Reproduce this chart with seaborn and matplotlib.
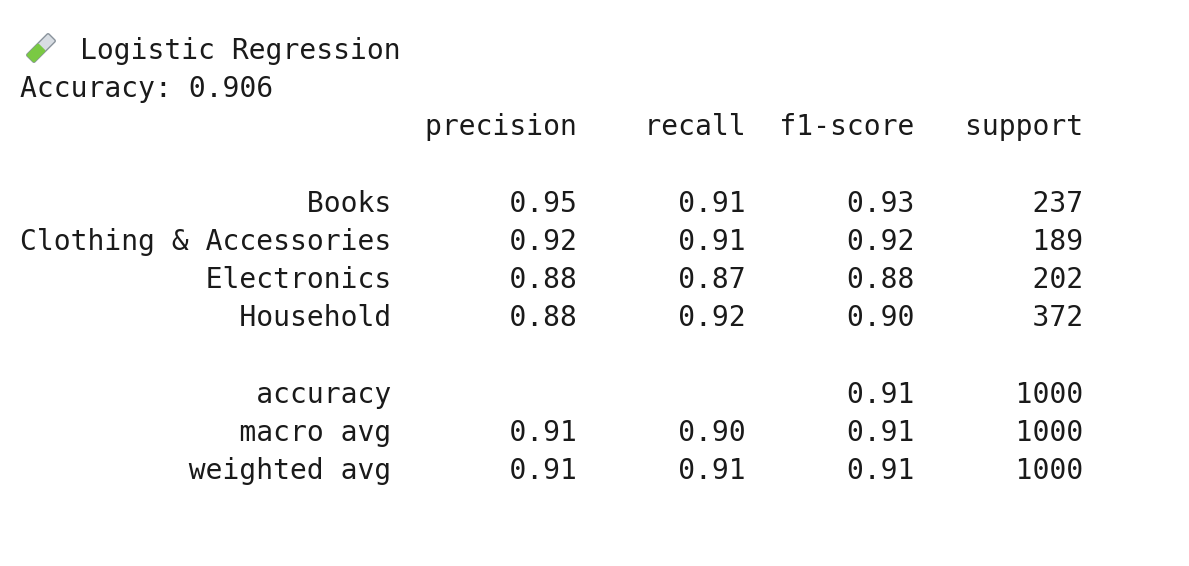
import matplotlib
matplotlib.use("Agg")
import matplotlib.pyplot as plt
import matplotlib.patches as mpatches
import matplotlib.transforms as mt
import seaborn as sns

sns.set_style("white")
plt.rcParams['font.family'] = ['DejaVu Sans Mono']

model_name = "Logistic Regression"
accuracy = 0.906
labels = ["Books", "Clothing & Accessories", "Electronics", "Household"]
precision = [0.95, 0.92, 0.88, 0.88]
recall = [0.91, 0.91, 0.87, 0.92]
f1 = [0.93, 0.92, 0.88, 0.90]
support = [237, 189, 202, 372]
acc_f1, acc_support = 0.91, 1000
avg_names = ["macro avg", "weighted avg"]
avg_precision = [0.91, 0.91]
avg_recall = [0.90, 0.91]
avg_f1 = [0.91, 0.91]
avg_support = [1000, 1000]

W, H = 1189, 566
fig = plt.figure(figsize=(W / 100, H / 100), dpi=100)
fig.patch.set_facecolor('white')

w = max(len(l) for l in labels + avg_names)
lines = [f"Accuracy: {accuracy:.3f}",
         f"{'':>{w}} " + "".join(f" {h:>9}" for h in ["precision", "recall", "f1-score", "support"]),
         ""]
for l, p, r, f, s in zip(labels, precision, recall, f1, support):
    lines.append(f"{l:>{w}} " + f" {p:>9.2f} {r:>9.2f} {f:>9.2f} {s:>9}")
lines.append("")
lines.append(f"{'accuracy':>{w}} " + f" {'':>9} {'':>9} {acc_f1:>9.2f} {acc_support:>9}")
for l, p, r, f, s in zip(avg_names, avg_precision, avg_recall, avg_f1, avg_support):
    lines.append(f"{l:>{w}} " + f" {p:>9.2f} {r:>9.2f} {f:>9.2f} {s:>9}")

fs = 20.2
col = '#1a1a1a'
fig.text(80 / W, 1 - 51 / H, model_name, fontsize=fs, va='center', ha='left', color=col)
y = 89
for ln in lines:
    fig.text(20 / W, 1 - y / H, ln, fontsize=fs, va='center', ha='left', color=col)
    y += 38.2

# test tube icon
ax = fig.add_axes([0, 0, 1, 1])
ax.set_xlim(0, W)
ax.set_ylim(H, 0)
ax.axis('off')
tube = mpatches.FancyBboxPatch((-4, -14), 8, 28, boxstyle="round,pad=1.5",
                               facecolor='#d8dde3', edgecolor='#8a939c', lw=1)
liquid = mpatches.FancyBboxPatch((-4, 0), 8, 14, boxstyle="round,pad=1.5",
                                 facecolor='#7ac943', edgecolor='none')
tr = mt.Affine2D().rotate_deg(45).translate(41, 48) + ax.transData
for p in (tube, liquid):
    p.set_transform(tr)
    ax.add_patch(p)

fig.savefig("out.png", dpi=100, facecolor='white')
